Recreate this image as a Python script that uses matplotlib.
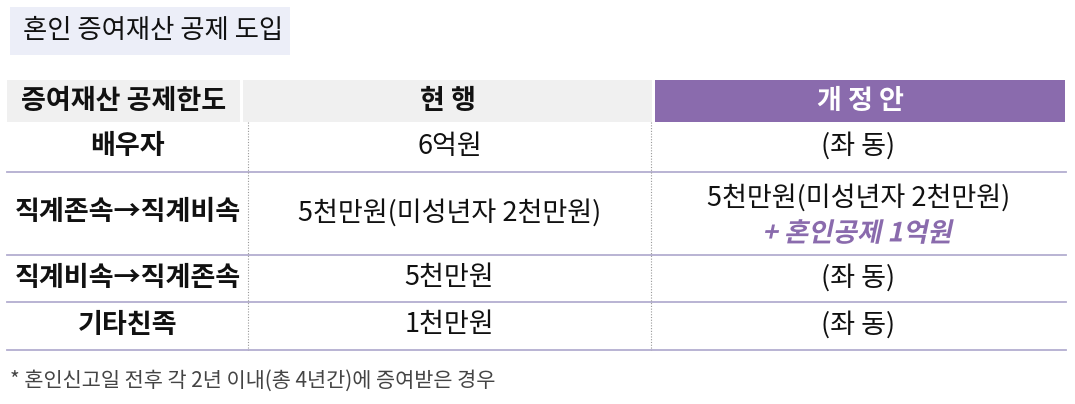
import matplotlib.pyplot as plt
from matplotlib.patches import Rectangle, PathPatch
from matplotlib.textpath import TextPath
from matplotlib.font_manager import FontProperties
from matplotlib.transforms import Affine2D

plt.rcParams['font.family'] = ['Noto Sans CJK KR', 'DejaVu Sans']

title = "혼인 증여재산 공제 도입"
headers = ["증여재산 공제한도", "현 행", "개 정 안"]
row_labels = ["배우자", "직계존속→직계비속", "직계비속→직계존속", "기타친족"]
current = ["6억원", "5천만원(미성년자 2천만원)", "5천만원", "1천만원"]
proposed = ["(좌 동)", "5천만원(미성년자 2천만원)", "(좌 동)", "(좌 동)"]
proposed_extra = "+ 혼인공제 1억원"
footnote = "* 혼인신고일 전후 각 2년 이내(총 4년간)에 증여받은 경우"

PURPLE = "#8a6bad"
GRAY = "#f0f0f0"
LINE = "#b3aed0"
FS = 19.5

col_x = [7, 241, 653, 1066]
row_y = [80, 122, 172, 255, 302, 350]

fig = plt.figure(figsize=(10.75, 4.04), dpi=100)
ax = fig.add_axes([0, 0, 1, 1])
ax.set_xlim(0, 1075)
ax.set_ylim(404, 0)
ax.axis("off")

# title box
ax.add_patch(Rectangle((10, 7), 280, 48, color="#eceef8", lw=0))
ax.text(23, 30, title, fontsize=19, fontweight="medium", va="center", ha="left", color="#111")

# header
for i, h in enumerate(headers):
    x0 = col_x[i] + (2 if i else 0)
    x1 = col_x[i + 1] - 1
    ax.add_patch(Rectangle((x0, row_y[0]), x1 - x0, row_y[1] - row_y[0],
                           color=PURPLE if i == 2 else GRAY, lw=0))
    ax.text((x0 + x1) / 2, (row_y[0] + row_y[1]) / 2, h, fontsize=FS,
            fontweight="bold", ha="center", va="center",
            color="white" if i == 2 else "#111")

# row separators
for y in row_y[2:]:
    ax.plot([col_x[0], col_x[-1]], [y, y], color=LINE, lw=1.3)
for x in [248, 651]:
    ax.plot([x, x], [row_y[1], row_y[-1]], color="#999", lw=0.8, ls=(0, (1, 1.5)))

for r in range(4):
    yc = (row_y[r + 1] + row_y[r + 2]) / 2 - 1
    ax.text((col_x[0] + 248) / 2, yc, row_labels[r], fontsize=FS, fontweight="bold",
            ha="center", va="center", color="#111")
    ax.text((248 + 651) / 2, yc, current[r], fontsize=FS, ha="center", va="center", color="#111")
    xc = (651 + col_x[-1]) / 2
    if r == 1:
        ax.text(xc, yc - 15, proposed[r], fontsize=FS, ha="center", va="center", color="#111")
        # fake italic via skewed text path
        fp = FontProperties(family="Noto Sans CJK KR", weight="bold")
        tp = TextPath((0, 0), proposed_extra, size=26.5, prop=fp)
        bb = tp.get_extents()
        tr = (Affine2D().translate(-bb.width / 2 - bb.x0, -bb.height / 2 - bb.y0)
              .skew_deg(12, 0).scale(1, -1).translate(xc, yc + 19))
        ax.add_patch(PathPatch(tr.transform_path(tp), color=PURPLE, lw=0))
    else:
        ax.text(xc, yc, proposed[r], fontsize=FS, ha="center", va="center", color="#111")

ax.text(10, 381, footnote, fontsize=15, ha="left", va="center", color="#444")

fig.savefig("out.png", dpi=100)
